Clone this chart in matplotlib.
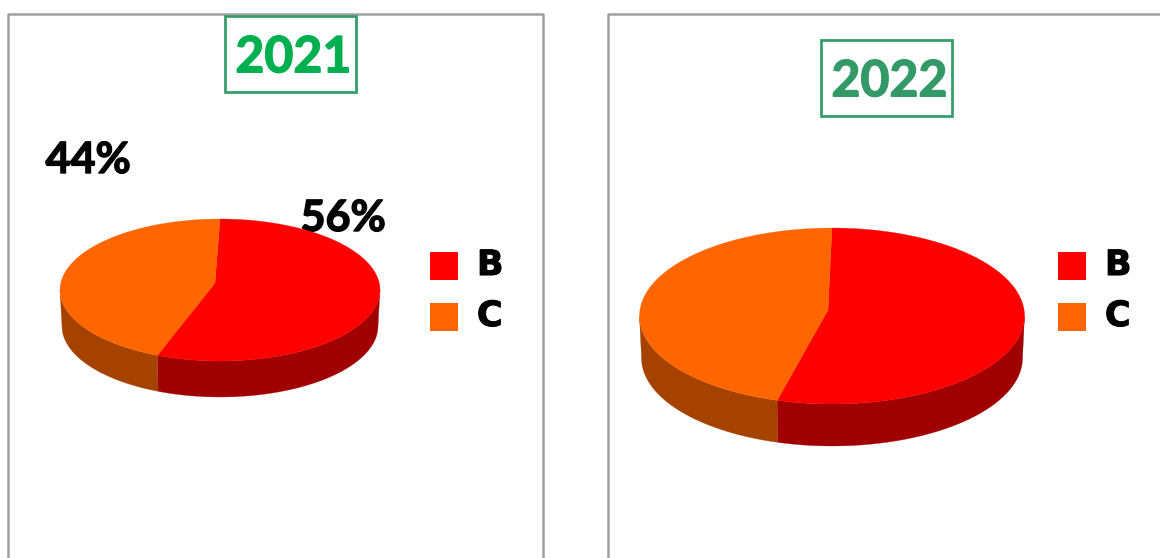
import numpy as np
import matplotlib
matplotlib.use("Agg")
import matplotlib.pyplot as plt
from matplotlib.patches import Rectangle
import matplotlib.patheffects as pe

categories = ["B", "C"]
values_2021 = [56.4, 43.6]
values_2022 = [54.6, 45.4]
titles = ["2021", "2022"]

top_colors = ["#ff0000", "#ff6600"]
side_colors = ["#a00000", "#a64200"]
title_colors = ["#00b050", "#339966"]
box_color = "#359f6c"
frame_color = "#a0a0a0"


def arc(cx, cy, rx, ry, t0, t1):
    # angle runs clockwise from the top of the ellipse, y axis points down
    t = np.radians(np.linspace(t0, t1, 200))
    return cx + rx * np.sin(t), cy - ry * np.cos(t)


def draw_pie(ax, values, top, bottom, apex):
    cx, cy, rx, ry = top
    total = sum(values)
    angles = np.concatenate([[0], np.cumsum(values) / total * 360])

    # side wall first, only the front half can be seen
    for i in range(len(values)):
        t0 = max(angles[i], 90)
        t1 = min(angles[i + 1], 270)
        if t1 > t0:
            x1, y1 = arc(cx, cy, rx, ry, t0, t1)
            x2, y2 = arc(*bottom, t1, t0)
            ax.fill(np.r_[x1, x2], np.r_[y1, y2], color=side_colors[i], lw=0.2, zorder=3)

    for i in range(len(values)):
        x, y = arc(cx, cy, rx, ry, angles[i], angles[i + 1])
        ax.fill(np.r_[apex[0], x], np.r_[apex[1], y], color=top_colors[i], lw=0.2, zorder=4)


def draw_legend(ax, x, rows):
    for name, color, y in zip(categories, top_colors, rows):
        ax.add_patch(Rectangle((x, y - 14), 28, 28, color=color, lw=0, zorder=5))
        ax.text(x + 47, y - 1, name, fontsize=25, fontweight="bold", family="DejaVu Sans",
                va="center", ha="left", color="black", zorder=5,
                path_effects=[pe.withStroke(linewidth=0.8, foreground="black")])


def draw_title(ax, label, color, x0, y0, x1, y1):
    ax.add_patch(Rectangle((x0, y0), x1 - x0, y1 - y0, fill=False, ec=box_color, lw=2, zorder=6))
    ax.text((x0 + x1) / 2 + 3, (y0 + y1) / 2 + 4, label, fontsize=36, fontweight="bold", family="Lato",
            color=color, ha="center", va="center", zorder=7,
            path_effects=[pe.withStroke(linewidth=1, foreground=color)])


fig = plt.figure(figsize=(11.6, 5.58), dpi=100)
ax = fig.add_axes([0, 0, 1, 1])
ax.set_xlim(0, 1160)
ax.set_ylim(558, 0)
ax.axis("off")

# panel frames run off the bottom and right of the picture
ax.plot([8, 8, 543, 543], [558, 14, 14, 558], color=frame_color, lw=1.8, zorder=1)
ax.plot([608, 608, 1160], [558, 14, 14], color=frame_color, lw=1.8, zorder=1)

draw_title(ax, titles[0], title_colors[0], 224.5, 15.5, 356, 92)
draw_title(ax, titles[1], title_colors[1], 820.5, 39.5, 952, 116)

draw_pie(ax, values_2021, (220, 290, 160, 71), (220, 326, 158, 71), (215, 283))
draw_pie(ax, values_2022, (832, 316, 192.5, 88), (832, 358, 190.5, 88), (828, 310))

# percent labels for the first panel only
stroke = [pe.withStroke(linewidth=1, foreground="black")]
ax.text(343, 218, f"{values_2021[0]:.0f}%", fontsize=31, fontweight="bold", family="Lato",
        ha="center", va="center", zorder=2, path_effects=stroke)
ax.text(88, 160, f"{values_2021[1]:.0f}%", fontsize=31, fontweight="bold", family="Lato",
        ha="center", va="center", zorder=2, path_effects=stroke)

draw_legend(ax, 430, [266, 317])
draw_legend(ax, 1058, [266, 317])

fig.savefig("out.png", dpi=100)
